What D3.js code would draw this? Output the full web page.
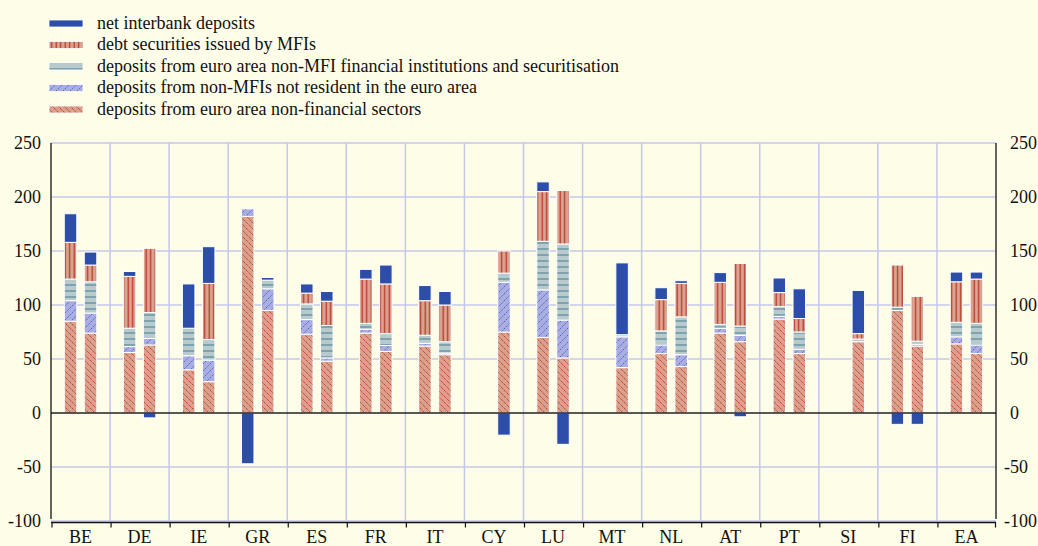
<!DOCTYPE html>
<html><head><meta charset="utf-8">
<script src="https://cdn.jsdelivr.net/npm/d3@7"></script>
<style>
html,body{margin:0;padding:0;background:#fefde8;}
svg{display:block;font-family:"Liberation Serif","Times New Roman",serif;}
</style></head>
<body>
<svg id="chart" width="1038" height="546"></svg>
<script>
const categories = ["BE","DE","IE","GR","ES","FR","IT","CY","LU","MT","NL","AT","PT","SI","FI","EA"];
const periods = ["p1","p2"];
const seriesNames = [
  "net interbank deposits",
  "debt securities issued by MFIs",
  "deposits from euro area non-MFI financial institutions and securitisation",
  "deposits from non-MFIs not resident in the euro area",
  "deposits from euro area non-financial sectors"
];
// first bar of each pair (null = no bar)
const nonFinancial1 = [85, 56, 40, 182, 73, 74, 62, null, 70, null, 55, 74, 87, null, 95, 64];
const nonResident1  = [19, 5.5, 13, 7, 13.5, 3.5, 2.5, null, 44, null, 8, 4.5, 2.5, null, 0, 6.5];
const euroFinancial1= [20, 17, 25.5, 0, 14.5, 5.5, 7.5, null, 45, null, 13, 3.5, 9, null, 3, 13.5];
const debtSec1      = [34, 48, 0, 0, 10, 41, 32, null, 46, null, 29, 39, 13, null, 39, 37.5];
const interbank1    = [26.5, 4.5, 41, -47, 8.5, 9, 14, null, 9, null, 11, 9, 13.5, null, -10.5, 9];
// second bar of each pair
const nonFinancial2 = [74, 63, 29, 95, 48, 57, 54, 75, 51, 42, 43, 66, 55, 66, 62, 55];
const nonResident2  = [18.5, 6, 20, 20, 3, 5.5, 1.5, 46, 35, 28.5, 11, 6, 4, 0, 1.5, 8];
const euroFinancial2= [29, 24, 19, 8, 30, 11, 10.5, 8.5, 70.5, 2, 35, 8.5, 16, 2.5, 3, 20];
const debtSec2      = [15.5, 59.5, 52, 0, 22.5, 46, 34, 20.5, 49.5, 0, 31, 58, 12.5, 5, 41.5, 41];
const interbank2    = [12, -4.5, 34, 2.5, 9, 17.5, 12.5, -20.5, -29, 66.5, 2.5, -3.5, 27.5, 40, -10.5, 6.5];
const yTicks = [-100, -50, 0, 50, 100, 150, 200, 250];

(function () {
const svg = d3.select("#chart");
const W = 1038, H = 546;
svg.append("rect").attr("width", W).attr("height", H).attr("fill", "#fefde8");

const pLeft = 51, pRight = 996, pTop = 143, pBottom = 521;
const x = d3.scaleBand().domain(categories).range([pLeft, pRight]).padding(0);
const bw = x.bandwidth();
const xp = d3.scalePoint().domain(periods).range([bw/2 - 10, bw/2 + 10]);
const barW = 12.5;
const y = d3.scaleLinear().domain([-100, 250]).range([pBottom, pTop]);

// patterns
const defs = svg.append("defs");
function pat(id, w, h, bg, draw) {
  const p = defs.append("pattern").attr("id", id).attr("patternUnits", "userSpaceOnUse")
    .attr("width", w).attr("height", h);
  p.append("rect").attr("width", w).attr("height", h).attr("fill", bg);
  draw(p);
}
pat("pNonFin", 6, 6, "#d9a08b", p => {
  p.append("path").attr("d", "M0,0 L6,6 M-3,3 L0,6 M6,0 L9,3")
    .attr("stroke", "#c0392f").attr("stroke-width", 1).attr("stroke-dasharray", "1.3,0.7");
});
pat("pNonRes", 7, 7, "#a9addf", p => {
  p.append("path").attr("d", "M0,7 L7,0 M-3.5,3.5 L3.5,-3.5 M3.5,10.5 L10.5,3.5")
    .attr("stroke", "#3e5ccc").attr("stroke-width", 0.9).attr("stroke-dasharray", "1.5,1");
});
pat("pEuroFin", 6, 6, "#b9cacc", p => {
  p.append("line").attr("x1", 0).attr("x2", 6).attr("y1", 3).attr("y2", 3)
    .attr("stroke", "#4c8592").attr("stroke-width", 1.1);
});
pat("pDebt", 4.5, 6, "#daa490", p => {
  p.append("line").attr("x1", 2.2).attr("x2", 2.2).attr("y1", 0).attr("y2", 6)
    .attr("stroke", "#b8372a").attr("stroke-width", 1.3);
});

const fills = {
  interbank: "#2c4ea9",
  debt: "url(#pDebt)",
  eurofin: "url(#pEuroFin)",
  nonres: "url(#pNonRes)",
  nonfin: "url(#pNonFin)"
};

// grid
const grid = svg.append("g");
grid.selectAll("line.h").data(yTicks.filter(t => t !== 0)).join("line")
  .attr("x1", pLeft).attr("x2", pRight).attr("y1", d => y(d)).attr("y2", d => y(d))
  .attr("stroke", "#c4c7ec").attr("stroke-width", 1.5);
grid.selectAll("line.v").data(categories.slice(1)).join("line")
  .attr("x1", d => x(d)).attr("x2", d => x(d)).attr("y1", pTop).attr("y2", pBottom)
  .attr("stroke", "#c4c7ec").attr("stroke-width", 1.5);

// build stacked segments
const order = ["nonfin", "nonres", "eurofin", "debt", "interbank"];
const data = {
  p1: {nonfin: nonFinancial1, nonres: nonResident1, eurofin: euroFinancial1, debt: debtSec1, interbank: interbank1},
  p2: {nonfin: nonFinancial2, nonres: nonResident2, eurofin: euroFinancial2, debt: debtSec2, interbank: interbank2}
};
const segs = [];
categories.forEach((c, i) => {
  periods.forEach(p => {
    let pos = 0, neg = 0;
    order.forEach(k => {
      const v = data[p][k][i];
      if (v == null || v === 0) return;
      if (v > 0) { segs.push({c, p, k, y0: pos, y1: pos + v}); pos += v; }
      else { segs.push({c, p, k, y0: neg + v, y1: neg}); neg += v; }
    });
  });
});

svg.append("g").selectAll("rect").data(segs).join("rect")
  .attr("x", d => x(d.c) + xp(d.p) - barW/2)
  .attr("width", barW)
  .attr("y", d => y(d.y1))
  .attr("height", d => Math.max(0.5, y(d.y0) - y(d.y1)))
  .attr("fill", d => fills[d.k])
  .attr("stroke", "#ffffff").attr("stroke-width", 1);

// zero line
svg.append("line").attr("x1", pLeft).attr("x2", pRight).attr("y1", y(0)).attr("y2", y(0))
  .attr("stroke", "#222").attr("stroke-width", 1.5);

// axes lines
svg.append("line").attr("x1", pLeft).attr("x2", pLeft).attr("y1", pTop).attr("y2", pBottom - 2)
  .attr("stroke", "#111").attr("stroke-width", 1.3);
svg.append("line").attr("x1", pRight).attr("x2", pRight).attr("y1", pTop).attr("y2", pBottom - 2)
  .attr("stroke", "#111").attr("stroke-width", 1.3);

// bottom category axis
const xb = pBottom + 1.5;
svg.append("line").attr("x1", pLeft).attr("x2", pRight).attr("y1", xb).attr("y2", xb)
  .attr("stroke", "#111").attr("stroke-width", 1.3);
const bounds = categories.map(c => x(c)).concat([pRight]);
svg.append("g").selectAll("line").data(bounds).join("line")
  .attr("x1", d => d + (d === pRight ? -0.5 : 1)).attr("x2", d => d + (d === pRight ? -0.5 : 1))
  .attr("y1", xb).attr("y2", xb + 5)
  .attr("stroke", "#111").attr("stroke-width", 1.2);
svg.append("g").selectAll("text").data(categories).join("text")
  .attr("x", d => x(d) + bw/2).attr("y", 543)
  .attr("text-anchor", "middle").attr("font-size", 18).attr("fill", "#111")
  .text(d => d);

// y tick labels
svg.append("g").selectAll("text").data(yTicks).join("text")
  .attr("x", 41).attr("y", d => y(d)).attr("dy", "0.35em")
  .attr("text-anchor", "end").attr("font-size", 18).attr("fill", "#111")
  .text(d => d);
svg.append("g").selectAll("text").data(yTicks).join("text")
  .attr("x", d => d < 0 ? 1004 : 1010).attr("y", d => y(d)).attr("dy", "0.35em")
  .attr("text-anchor", "start").attr("font-size", 18).attr("fill", "#111")
  .text(d => d);

// legend
const legendKeys = ["interbank", "debt", "eurofin", "nonres", "nonfin"];
const lg = svg.append("g");
legendKeys.forEach((k, i) => {
  const cy = 23.5 + i * 21.5;
  lg.append("rect").attr("x", 49).attr("y", cy - 3.5).attr("width", 34).attr("height", 7)
    .attr("fill", fills[k]).attr("stroke", "#fff").attr("stroke-width", 0.8);
  lg.append("text").attr("x", 97).attr("y", cy).attr("dy", "0.3em")
    .attr("font-size", 18).attr("fill", "#111").text(seriesNames[i]);
});
})();
</script>
</body></html>
